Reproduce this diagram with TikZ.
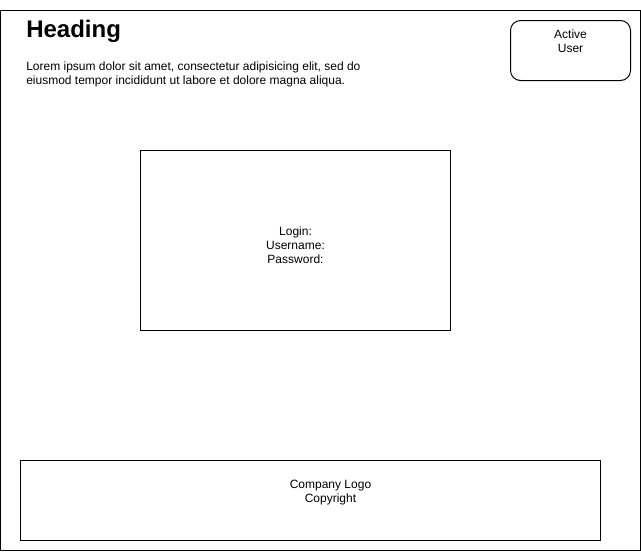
\documentclass[tikz,border=0pt]{standalone}
\usepackage{fontspec}
\setmainfont{Liberation Sans}
\begin{document}
\begin{tikzpicture}[x=0.75pt,y=-0.75pt,
  box/.style={draw=black,line width=0.75pt},
  txt/.style={inner sep=0pt,font=\fontsize{9}{10.5}\selectfont,text=black},
  ctxt/.style={txt,align=center,anchor=base},
]
\useasboundingbox (0,0) rectangle (641,551);
\fill[white] (0,0) rectangle (641,551);
% outer frame
\draw[box] (0.5,10.5) rectangle (640,550);
% heading
\node[inner sep=0pt,anchor=base west,font=\fontsize{18}{21}\selectfont\bfseries] (heading) at (26,37.8) {Heading};
\node[txt,align=left,anchor=base west] (lorem) at (26,84.5) {Lorem ipsum dolor sit amet, consectetur adipisicing elit, sed do\\eiusmod tempor incididunt ut labore et dolore magna aliqua.};
% active user
\draw[box,rounded corners=7.5pt] (510.5,20.5) rectangle (630.5,80.5);
\node[ctxt] (active) at (570.5,52) {Active\\User};
% login box
\draw[box] (140.5,150.5) rectangle (450.5,330.5);
\node[ctxt] (login) at (295.5,263.5) {Login:\\Username:\\Password:};
% footer
\draw[box] (20.5,460.5) rectangle (600.5,540.5);
\node[ctxt] (footer) at (330.5,502) {Company Logo\\Copyright};
\end{tikzpicture}
\end{document}
